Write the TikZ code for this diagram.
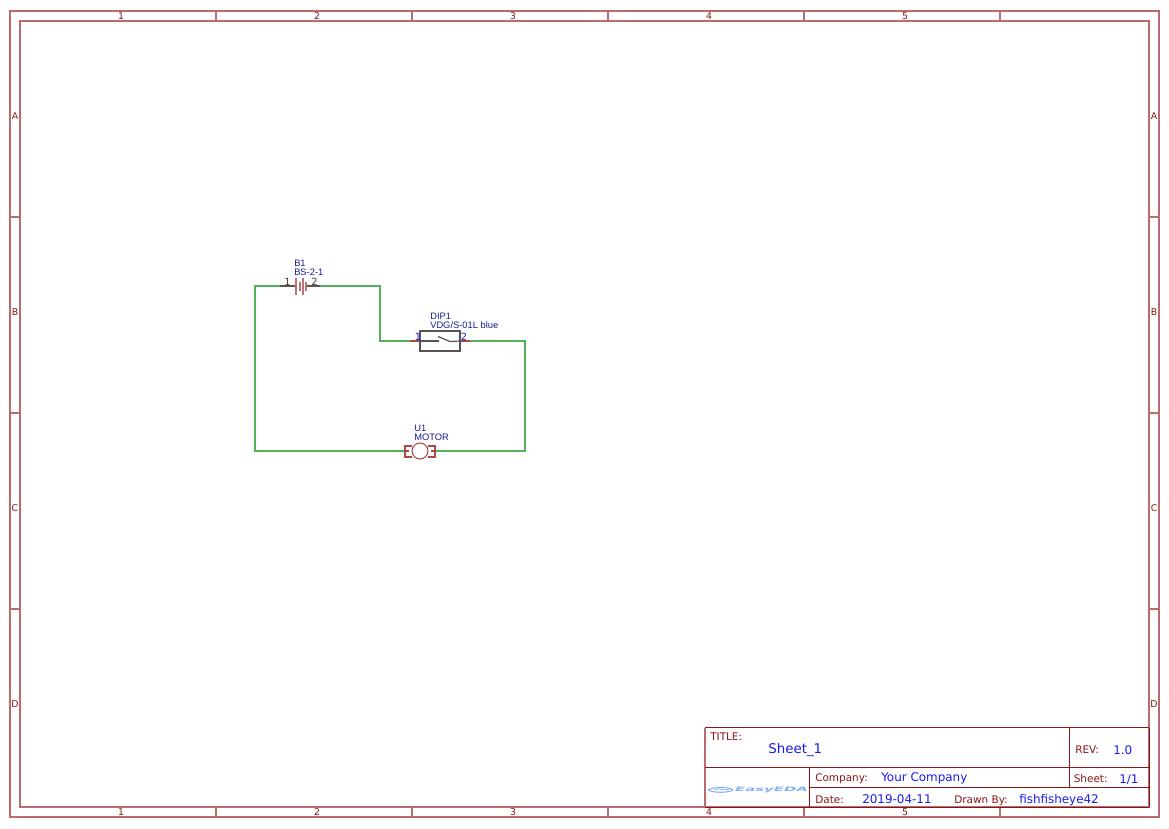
\documentclass[tikz,border=0pt]{standalone}
\usepackage{fontspec}
\setmainfont{DejaVu Sans}
\newfontfamily\reffont{Liberation Sans}
\definecolor{frame}{HTML}{8B1414}
\definecolor{framepale}{HTML}{B96C6C}
\definecolor{wirec}{HTML}{55B25C}
\definecolor{valc}{HTML}{1A1AF0}
\definecolor{refc}{HTML}{1A1A90}
\definecolor{symc}{HTML}{BC7272}
\definecolor{symdark}{HTML}{A84848}
\definecolor{pinc}{HTML}{555555}
\definecolor{logoc}{HTML}{7FB0F5}
\tikzset{
  x=0.75pt,y=-0.75pt,
  frameline/.style={draw=framepale,line width=1.5pt},
  blockline/.style={draw=frame,line width=0.7pt},
  wireline/.style={draw=wirec,line width=1.1pt,line join=miter},
  symline/.style={draw=symc,line width=1.5pt},
  motorline/.style={draw=symdark,line width=0.8pt},
  pinline/.style={draw=pinc,line width=0.9pt},
  swline/.style={draw=pinc,line width=1.1pt},
  edge label/.style={text=frame,font=\fontsize{7}{8}\selectfont,inner sep=0pt},
  cap label/.style={text=frame,font=\fontsize{7.85}{9}\selectfont,inner sep=0pt,anchor=base west},
  val label/.style={text=valc,font=\fontsize{8.95}{10}\selectfont,inner sep=0pt,anchor=base west},
  ref label/.style={text=refc,font=\fontsize{7}{7}\selectfont\reffont,inner sep=0pt,anchor=base west},
  pin label/.style={font=\fontsize{7.4}{8}\selectfont,inner sep=0pt,anchor=base west},
}
\begin{document}
\begin{tikzpicture}
\useasboundingbox (0,0) rectangle (1169,828);
% sheet frame
\draw[frameline] (10,11) rectangle (1159,817);
\draw[frameline] (20,21) rectangle (1149,807);
\foreach \x in {216,412,608,804,1000}{
  \draw[frameline] (\x,11) -- (\x,21);
  \draw[frameline] (\x,807) -- (\x,817);
}
\foreach \y in {217,413,609}{
  \draw[frameline] (10,\y) -- (20,\y);
  \draw[frameline] (1149,\y) -- (1159,\y);
}
\foreach \t [count=\i] in {1,2,3,4,5}{
  \node[edge label] (topn\i) at ({121+196*(\i-1)},16.5) {\t};
  \node[edge label] (botn\i) at ({121+196*(\i-1)},812.5) {\t};
}
\foreach \t [count=\i] in {A,B,C,D}{
  \node[edge label] (leftl\i) at (15,{116+196*(\i-1)}) {\t};
  \node[edge label] (rightl\i) at (1154,{116+196*(\i-1)}) {\t};
}
% title block
\draw[frameline] (705,727.5) -- (705,807);
\draw[blockline] (705,727.5) -- (1149,727.5);
\draw[blockline] (1149,727.5) -- (1149,807);
\draw[blockline] (705,767) -- (1149,767);
\draw[blockline] (705,807) -- (1149,807);
\draw[blockline] (1069.5,727.5) -- (1069.5,787);
\draw[blockline] (809.5,767) -- (809.5,807);
\draw[blockline] (809.5,787) -- (1149,787);
\node[cap label] (ttl) at (710,740) {TITLE:};
\node[val label,font=\fontsize{10.05}{12}\selectfont] (sheetname) at (768,753) {Sheet\_1};
\node[cap label] (rev) at (1075,753) {REV:};
\node[val label] (revv) at (1113,754) {1.0};
\node[cap label] (comp) at (815,781) {Company:};
\node[val label] (compv) at (881,781) {Your Company};
\node[cap label] (sh) at (1073.5,782) {Sheet:};
\node[val label] (shv) at (1119,783) {1/1};
\node[cap label] (dt) at (815,803) {Date:};
\node[val label] (dtv) at (862,803) {2019-04-11};
\node[cap label] (db) at (954,803) {Drawn By:};
\node[val label] (dbv) at (1019,803) {fishfisheye42};
% logo
\draw[logoc,line width=0.8pt] (708,790) .. controls (714,786.5) and (728,786.5) .. (733,790) .. controls (728,793) and (714,793) .. (708,790);
\draw[logoc,line width=0.6pt] (715,789.5) .. controls (720,787.5) and (726,791.5) .. (729,789);
\node[text=logoc,inner sep=0pt,xscale=2.42,font=\fontsize{4.6}{5}\selectfont\bfseries\itshape] (logo) at (771.5,789.7) {EasyEDA};
% wires
\coordinate (bw1) at (280,286);
\coordinate (bw2) at (320,286);
\coordinate (dw1) at (410,341);
\coordinate (dw2) at (470,341);
\coordinate (mw1) at (405,451);
\coordinate (mw2) at (435,451);
\draw[wireline] (mw1) -- (255,451) -- (255,286) -- (bw1);
\draw[wireline] (bw2) -- (380,286) -- (380,341) -- (dw1);
\draw[wireline] (dw2) -- (525,341) -- (525,451) -- (mw2);
% battery
\coordinate (bp1) at (295.5,286);
\coordinate (bp2) at (305,286);
\draw[pinline] (bw1) -- (bp1);
\draw[pinline] (bw2) -- (bp2);
\draw[symline] (296,278) -- (296,295);
\draw[symline] (299.5,282) -- (299.5,291);
\draw[symline] (302.5,278) -- (302.5,295);
\draw[symline] (305.5,282) -- (305.5,291);
\node[ref label] (b1) at (294,266.5) {B1};
\node[ref label] (b1v) at (294,275.5) {BS-2-1};
\node[pin label,text=pinc!70!black] (b1p1) at (284,285) {1};
\node[pin label,text=pinc!70!black] (b1p2) at (311,285) {2};
% switch
\coordinate (sw1) at (420,341);
\coordinate (sw2) at (460,341);
\draw[draw=symdark,line width=1pt] (dw1) -- (sw1);
\draw[draw=symdark,line width=1pt] (dw2) -- (sw2);
\draw[swline] (420,331) rectangle (460,351);
\draw[pinline] (sw1) -- (439,341);
\draw[pinline] (438,336.5) -- (450,341.5) -- (sw2);
\node[ref label] (d1) at (430,319.5) {DIP1};
\node[ref label] (d1v) at (430,328.5) {VDG/S-01L blue};
\node[pin label,text=valc] (d1p1) at (414.5,340) {1};
\node[pin label,text=valc] (d1p2) at (460.5,340) {2};
% motor
\node[draw=symdark,line width=0.8pt,circle,minimum size=16pt*0.75,inner sep=0pt] (m) at (420,451) {};
\draw[motorline] (412,446) -- (405,446) -- (405,457) -- (412,457);
\draw[motorline] (428,446) -- (435,446) -- (435,457) -- (428,457);
\draw[motorline] (mw1) -- (409,451);
\draw[motorline] (mw2) -- (431,451);
\node[ref label] (u1) at (414,431.5) {U1};
\node[ref label] (u1v) at (414,440.5) {MOTOR};
\end{tikzpicture}
\end{document}
